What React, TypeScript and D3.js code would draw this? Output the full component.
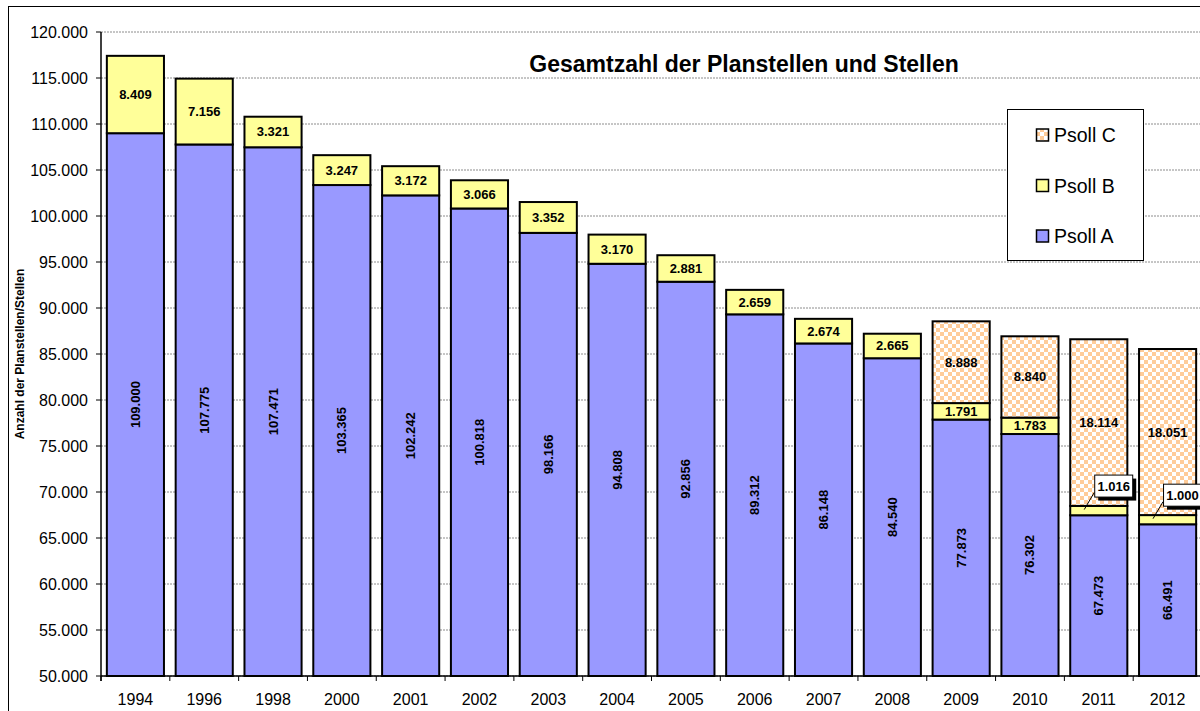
import React from 'react';
import * as d3 from 'd3';

// Werte
const years = ['1994', '1996', '1998', '2000', '2001', '2002', '2003', '2004', '2005', '2006', '2007', '2008', '2009', '2010', '2011', '2012'];
const psollA = [109000, 107775, 107471, 103365, 102242, 100818, 98166, 94808, 92856, 89312, 86148, 84540, 77873, 76302, 67473, 66491];
const psollB = [8409, 7156, 3321, 3247, 3172, 3066, 3352, 3170, 2881, 2659, 2674, 2665, 1791, 1783, 1016, 1000];
const psollC = [0, 0, 0, 0, 0, 0, 0, 0, 0, 0, 0, 0, 8888, 8840, 18114, 18051];
const yTicks = d3.range(50000, 120001, 5000);

const seriesKeys = ['A', 'B', 'C'];
const legendItems = [
  { key: 'C', label: 'Psoll C' },
  { key: 'B', label: 'Psoll B' },
  { key: 'A', label: 'Psoll A' },
];

const de = d3.formatLocale({ decimal: ',', thousands: '.', grouping: [3], currency: ['', ' €'] });
const fmt = de.format(',d');

const font = '"Liberation Sans", Arial, sans-serif';

const App = () => {
  const width = 1200;
  const height = 711;
  const left = 101;
  const right = 1202;
  const top = 32;
  const bottom = 676;

  const x = d3.scaleBand<string>()
    .domain(years)
    .range([left, right])
    .paddingInner(0.17)
    .paddingOuter(0.085);

  const y = d3.scaleLinear().domain([50000, 120000]).range([bottom, top]);

  const rows = years.map((year, i) => ({ year, A: psollA[i], B: psollB[i], C: psollC[i] }));
  const stacked = d3.stack<any>().keys(seriesKeys)(rows);

  const fills: Record<string, string> = { A: '#9999FF', B: '#FFFF99', C: 'url(#checker)' };

  const step = x.step();

  return (
    <svg width={width} height={height} style={{ position: 'absolute', left: 0, top: 0, background: '#fff' }}>
      <defs>
        <pattern id="checker" width={8} height={8} patternUnits="userSpaceOnUse">
          <rect width={8} height={8} fill="#ffffff" />
          <rect x={0} y={0} width={4} height={4} fill="#FFCC99" />
          <rect x={4} y={4} width={4} height={4} fill="#FFCC99" />
        </pattern>
      </defs>

      {/* outer frame */}
      <rect x={8.5} y={6.5} width={1200} height={710} fill="none" stroke="#000" strokeWidth={1} />

      {/* gridlines */}
      {yTicks.map((t) => (
        <line key={'g' + t} x1={left} x2={right} y1={y(t)} y2={y(t)} stroke="#8c8c8c" strokeDasharray="2,1" strokeWidth={1} />
      ))}

      {/* title */}
      <text x={744} y={72} textAnchor="middle" fontFamily={font} fontWeight="bold" fontSize={23}>
        Gesamtzahl der Planstellen und Stellen
      </text>

      {/* bars */}
      {stacked.map((layer) => (
        <g key={layer.key}>
          {layer.map((d, i) => {
            const v0 = Math.max(d[0], 50000);
            const v1 = d[1];
            if (v1 - d[0] <= 0) return null;
            return (
              <rect
                key={i}
                x={x(years[i])}
                y={y(v1)}
                width={x.bandwidth()}
                height={y(v0) - y(v1)}
                fill={fills[layer.key]}
                stroke="#000"
                strokeWidth={2}
              />
            );
          })}
        </g>
      ))}

      {/* data labels */}
      {stacked.map((layer) => (
        <g key={'l' + layer.key} fontFamily={font} fontWeight="bold" fontSize={13}>
          {layer.map((d, i) => {
            const val = d[1] - d[0];
            if (val <= 0) return null;
            const v0 = Math.max(d[0], 50000);
            const cx = (x(years[i]) as number) + x.bandwidth() / 2;
            const cy = (y(v0) + y(d[1])) / 2;
            const segH = y(v0) - y(d[1]);
            if (layer.key === 'A') {
              return (
                <text key={i} transform={`translate(${cx + 4.5},${cy}) rotate(-90)`} textAnchor="middle">
                  {fmt(val)}
                </text>
              );
            }
            if (segH < 12) {
              // callout box for thin segments
              const bx = (x(years[i]) as number) + 24;
              const by = cy - 36;
              const bw = 38;
              const bh = 22;
              return (
                <g key={i}>
                  <line x1={(x(years[i]) as number) + 14} y1={cy - 1} x2={bx} y2={by + bh - 4} stroke="#000" strokeWidth={1} />
                  <rect x={bx + 4} y={by + 4} width={bw} height={bh} fill="#000" />
                  <rect x={bx + 0.5} y={by + 0.5} width={bw} height={bh} fill="#fff" stroke="#000" strokeWidth={1} />
                  <text x={bx + bw / 2 + 0.5} y={by + bh / 2 + 5} textAnchor="middle">
                    {fmt(val)}
                  </text>
                </g>
              );
            }
            return (
              <text key={i} x={cx} y={cy + 4.5} textAnchor="middle">
                {fmt(val)}
              </text>
            );
          })}
        </g>
      ))}

      {/* y axis */}
      <line x1={left} x2={left} y1={top} y2={bottom + 5} stroke="#000" strokeWidth={1.5} />
      {yTicks.map((t) => (
        <g key={'t' + t}>
          <line x1={left - 5} x2={left} y1={y(t)} y2={y(t)} stroke="#000" />
          <text x={left - 13} y={y(t) + 6} textAnchor="end" fontFamily={font} fontSize={16}>
            {fmt(t)}
          </text>
        </g>
      ))}
      <text transform={`translate(23.5,${(top + bottom) / 2}) rotate(-90)`} textAnchor="middle" fontFamily={font} fontWeight="bold" fontSize={12}>
        Anzahl der Planstellen/Stellen
      </text>

      {/* x axis */}
      <line x1={left} x2={right} y1={bottom} y2={bottom} stroke="#000" strokeWidth={1.5} />
      {years.map((yr, i) => (
        <g key={'x' + yr}>
          <line x1={left + i * step} x2={left + i * step} y1={bottom} y2={bottom + 5} stroke="#000" />
          <text x={(x(yr) as number) + x.bandwidth() / 2} y={705} textAnchor="middle" fontFamily={font} fontSize={16}>
            {yr}
          </text>
        </g>
      ))}

      {/* legend */}
      <rect x={1007.5} y={109.5} width={136} height={151} fill="#fff" stroke="#000" strokeWidth={1} />
      {legendItems.map((item, i) => {
        const cy = 135 + i * 50.5;
        return (
          <g key={item.key}>
            <rect x={1036.5} y={cy - 6} width={12} height={12} fill={fills[item.key]} stroke="#000" strokeWidth={1.5} />
            <text x={1054} y={cy + 7} fontFamily={font} fontSize={19.5}>
              {item.label}
            </text>
          </g>
        );
      })}
    </svg>
  );
};

export default App;
